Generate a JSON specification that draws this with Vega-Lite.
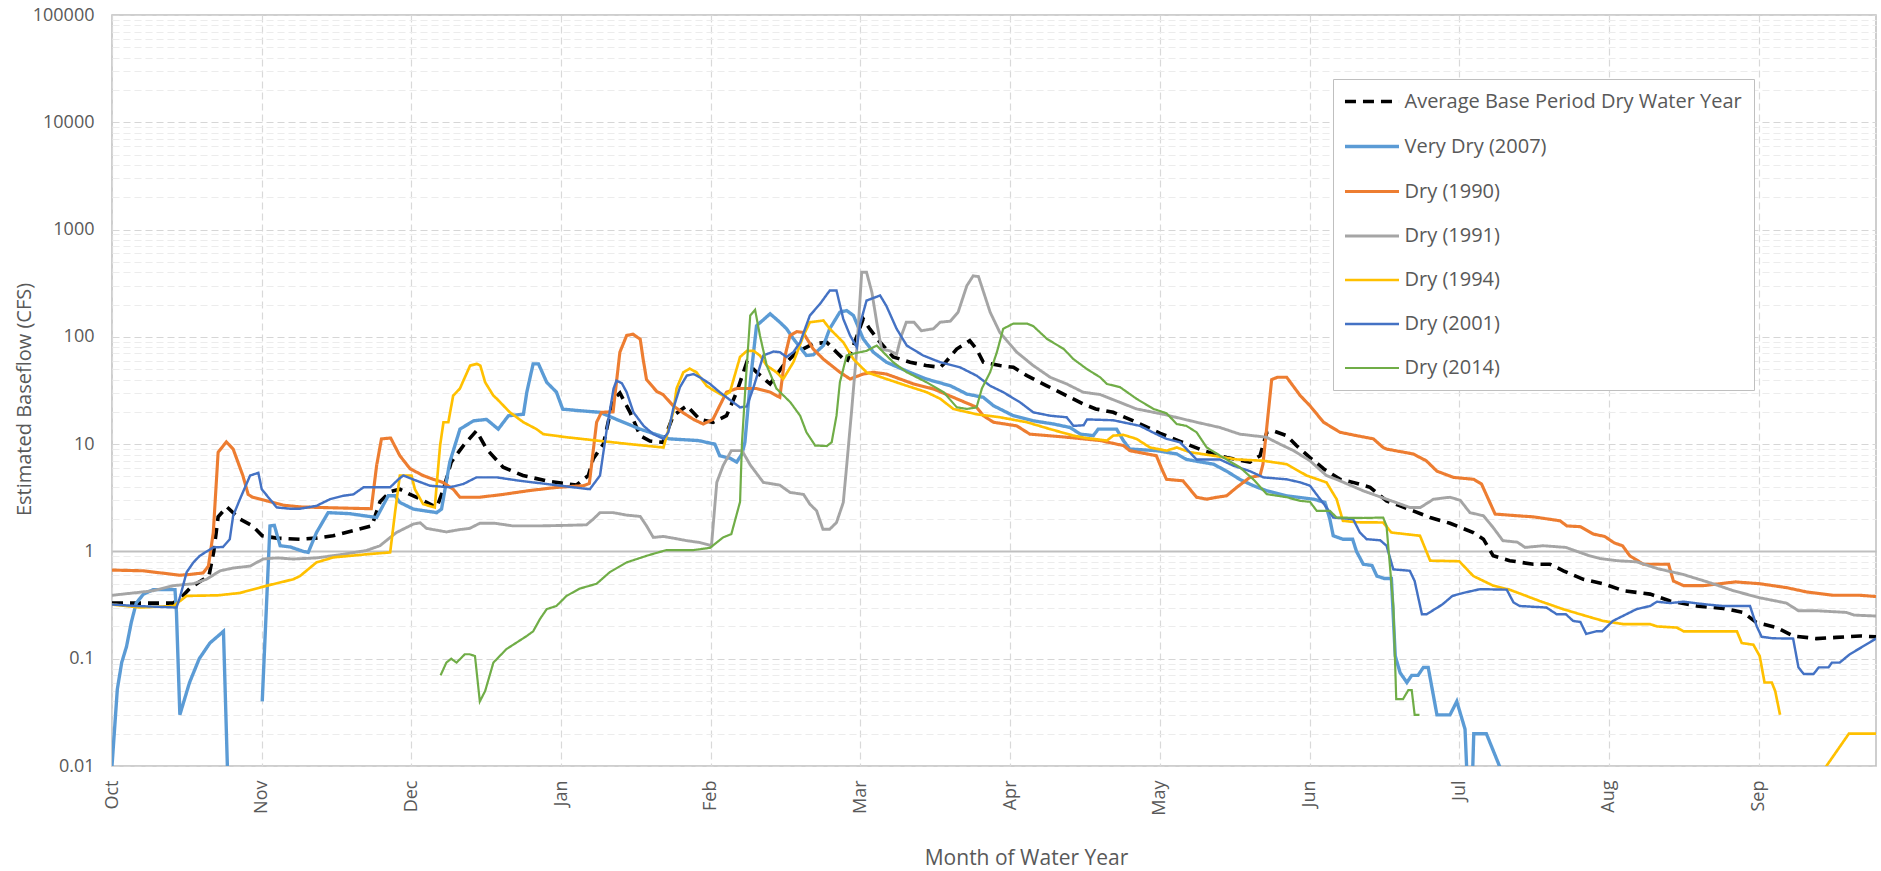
{
"$schema": "https://vega.github.io/schema/vega-lite/v6.json",
"autosize": {"type": "none"},
"width": 1764,
"height": 751,
"padding": {"left": 112, "top": 15, "right": 5, "bottom": 105},
"background": "white",
"config": {
  "font": "Open Sans",
  "view": {"stroke": "#bfbfbf", "strokeWidth": 1.5},
  "axis": {"labelColor": "#595959", "titleColor": "#595959", "titleFontWeight": "normal", "labelFont": "Open Sans", "titleFont": "Open Sans"}
},
"data": {"values": [
{"series":"Average Base Period Dry Water Year","day":0,"cfs":0.33},
{"series":"Average Base Period Dry Water Year","day":5,"cfs":0.33},
{"series":"Average Base Period Dry Water Year","day":12.6,"cfs":0.33},
{"series":"Average Base Period Dry Water Year","day":14,"cfs":0.36},
{"series":"Average Base Period Dry Water Year","day":16,"cfs":0.45},
{"series":"Average Base Period Dry Water Year","day":18,"cfs":0.52},
{"series":"Average Base Period Dry Water Year","day":20,"cfs":0.59},
{"series":"Average Base Period Dry Water Year","day":21,"cfs":1.0},
{"series":"Average Base Period Dry Water Year","day":21.9,"cfs":2.1},
{"series":"Average Base Period Dry Water Year","day":23.7,"cfs":2.6},
{"series":"Average Base Period Dry Water Year","day":26.4,"cfs":2.0},
{"series":"Average Base Period Dry Water Year","day":29,"cfs":1.73},
{"series":"Average Base Period Dry Water Year","day":31,"cfs":1.4},
{"series":"Average Base Period Dry Water Year","day":34,"cfs":1.33},
{"series":"Average Base Period Dry Water Year","day":38.8,"cfs":1.3},
{"series":"Average Base Period Dry Water Year","day":42,"cfs":1.33},
{"series":"Average Base Period Dry Water Year","day":45.6,"cfs":1.4},
{"series":"Average Base Period Dry Water Year","day":49.8,"cfs":1.56},
{"series":"Average Base Period Dry Water Year","day":53.6,"cfs":1.73},
{"series":"Average Base Period Dry Water Year","day":55.3,"cfs":2.9},
{"series":"Average Base Period Dry Water Year","day":57.4,"cfs":3.6},
{"series":"Average Base Period Dry Water Year","day":59.4,"cfs":3.8},
{"series":"Average Base Period Dry Water Year","day":61.5,"cfs":3.4},
{"series":"Average Base Period Dry Water Year","day":63.6,"cfs":3.08},
{"series":"Average Base Period Dry Water Year","day":67,"cfs":2.57},
{"series":"Average Base Period Dry Water Year","day":68.4,"cfs":3.8},
{"series":"Average Base Period Dry Water Year","day":70,"cfs":6.8},
{"series":"Average Base Period Dry Water Year","day":72.5,"cfs":9.7},
{"series":"Average Base Period Dry Water Year","day":75.2,"cfs":13.3},
{"series":"Average Base Period Dry Water Year","day":77.3,"cfs":9},
{"series":"Average Base Period Dry Water Year","day":80.7,"cfs":6.1},
{"series":"Average Base Period Dry Water Year","day":84.8,"cfs":5.1},
{"series":"Average Base Period Dry Water Year","day":89.6,"cfs":4.55},
{"series":"Average Base Period Dry Water Year","day":95.8,"cfs":4.15},
{"series":"Average Base Period Dry Water Year","day":98.3,"cfs":5.1},
{"series":"Average Base Period Dry Water Year","day":99.3,"cfs":7.3},
{"series":"Average Base Period Dry Water Year","day":101.4,"cfs":10},
{"series":"Average Base Period Dry Water Year","day":103.4,"cfs":26},
{"series":"Average Base Period Dry Water Year","day":104.8,"cfs":30},
{"series":"Average Base Period Dry Water Year","day":106.9,"cfs":19.8},
{"series":"Average Base Period Dry Water Year","day":109,"cfs":12},
{"series":"Average Base Period Dry Water Year","day":111,"cfs":10.7},
{"series":"Average Base Period Dry Water Year","day":113.7,"cfs":10.4},
{"series":"Average Base Period Dry Water Year","day":115.8,"cfs":18.4},
{"series":"Average Base Period Dry Water Year","day":118.6,"cfs":22.8},
{"series":"Average Base Period Dry Water Year","day":121.3,"cfs":17},
{"series":"Average Base Period Dry Water Year","day":124,"cfs":16},
{"series":"Average Base Period Dry Water Year","day":126.8,"cfs":18.4},
{"series":"Average Base Period Dry Water Year","day":128.9,"cfs":30.5},
{"series":"Average Base Period Dry Water Year","day":131,"cfs":58},
{"series":"Average Base Period Dry Water Year","day":133,"cfs":46.8},
{"series":"Average Base Period Dry Water Year","day":135.8,"cfs":36.4},
{"series":"Average Base Period Dry Water Year","day":138.5,"cfs":54},
{"series":"Average Base Period Dry Water Year","day":141.3,"cfs":72},
{"series":"Average Base Period Dry Water Year","day":144.7,"cfs":86},
{"series":"Average Base Period Dry Water Year","day":147.5,"cfs":89},
{"series":"Average Base Period Dry Water Year","day":149.5,"cfs":72},
{"series":"Average Base Period Dry Water Year","day":151.6,"cfs":58},
{"series":"Average Base Period Dry Water Year","day":153,"cfs":83},
{"series":"Average Base Period Dry Water Year","day":155,"cfs":147},
{"series":"Average Base Period Dry Water Year","day":156.4,"cfs":118},
{"series":"Average Base Period Dry Water Year","day":158.5,"cfs":89},
{"series":"Average Base Period Dry Water Year","day":161.2,"cfs":65},
{"series":"Average Base Period Dry Water Year","day":164.7,"cfs":58},
{"series":"Average Base Period Dry Water Year","day":168,"cfs":54},
{"series":"Average Base Period Dry Water Year","day":170.9,"cfs":52},
{"series":"Average Base Period Dry Water Year","day":172,"cfs":58},
{"series":"Average Base Period Dry Water Year","day":174.3,"cfs":77},
{"series":"Average Base Period Dry Water Year","day":177,"cfs":92},
{"series":"Average Base Period Dry Water Year","day":178.4,"cfs":77},
{"series":"Average Base Period Dry Water Year","day":179.8,"cfs":58},
{"series":"Average Base Period Dry Water Year","day":183.2,"cfs":54},
{"series":"Average Base Period Dry Water Year","day":186,"cfs":52},
{"series":"Average Base Period Dry Water Year","day":188.8,"cfs":43.5},
{"series":"Average Base Period Dry Water Year","day":192.9,"cfs":35},
{"series":"Average Base Period Dry Water Year","day":197,"cfs":28.3},
{"series":"Average Base Period Dry Water Year","day":200.4,"cfs":23.7},
{"series":"Average Base Period Dry Water Year","day":203,"cfs":21.3},
{"series":"Average Base Period Dry Water Year","day":206.6,"cfs":19.8},
{"series":"Average Base Period Dry Water Year","day":211.4,"cfs":16},
{"series":"Average Base Period Dry Water Year","day":216.3,"cfs":12.6},
{"series":"Average Base Period Dry Water Year","day":220.4,"cfs":10.6},
{"series":"Average Base Period Dry Water Year","day":225.2,"cfs":8.7},
{"series":"Average Base Period Dry Water Year","day":230,"cfs":7.5},
{"series":"Average Base Period Dry Water Year","day":234.8,"cfs":6.8},
{"series":"Average Base Period Dry Water Year","day":236.9,"cfs":7.8},
{"series":"Average Base Period Dry Water Year","day":238.3,"cfs":12.9},
{"series":"Average Base Period Dry Water Year","day":239.6,"cfs":13.3},
{"series":"Average Base Period Dry Water Year","day":242.4,"cfs":12},
{"series":"Average Base Period Dry Water Year","day":244.4,"cfs":9.7},
{"series":"Average Base Period Dry Water Year","day":247.2,"cfs":7.5},
{"series":"Average Base Period Dry Water Year","day":250,"cfs":5.9},
{"series":"Average Base Period Dry Water Year","day":253.4,"cfs":4.7},
{"series":"Average Base Period Dry Water Year","day":256.1,"cfs":4.4},
{"series":"Average Base Period Dry Water Year","day":259.6,"cfs":3.96},
{"series":"Average Base Period Dry Water Year","day":263,"cfs":2.96},
{"series":"Average Base Period Dry Water Year","day":265.8,"cfs":2.66},
{"series":"Average Base Period Dry Water Year","day":268.5,"cfs":2.39},
{"series":"Average Base Period Dry Water Year","day":272,"cfs":2.07},
{"series":"Average Base Period Dry Water Year","day":276.1,"cfs":1.83},
{"series":"Average Base Period Dry Water Year","day":280.9,"cfs":1.5},
{"series":"Average Base Period Dry Water Year","day":283,"cfs":1.3},
{"series":"Average Base Period Dry Water Year","day":285,"cfs":0.91},
{"series":"Average Base Period Dry Water Year","day":288.4,"cfs":0.82},
{"series":"Average Base Period Dry Water Year","day":293.3,"cfs":0.76},
{"series":"Average Base Period Dry Water Year","day":296.7,"cfs":0.76},
{"series":"Average Base Period Dry Water Year","day":299.5,"cfs":0.66},
{"series":"Average Base Period Dry Water Year","day":303.6,"cfs":0.55},
{"series":"Average Base Period Dry Water Year","day":307.7,"cfs":0.5},
{"series":"Average Base Period Dry Water Year","day":311.9,"cfs":0.43},
{"series":"Average Base Period Dry Water Year","day":317.4,"cfs":0.4},
{"series":"Average Base Period Dry Water Year","day":321.5,"cfs":0.345},
{"series":"Average Base Period Dry Water Year","day":327,"cfs":0.31},
{"series":"Average Base Period Dry Water Year","day":332.5,"cfs":0.294},
{"series":"Average Base Period Dry Water Year","day":336.6,"cfs":0.27},
{"series":"Average Base Period Dry Water Year","day":339.3,"cfs":0.218},
{"series":"Average Base Period Dry Water Year","day":343.5,"cfs":0.195},
{"series":"Average Base Period Dry Water Year","day":346.9,"cfs":0.163},
{"series":"Average Base Period Dry Water Year","day":351.7,"cfs":0.154},
{"series":"Average Base Period Dry Water Year","day":355.8,"cfs":0.158},
{"series":"Average Base Period Dry Water Year","day":360.7,"cfs":0.163},
{"series":"Average Base Period Dry Water Year","day":364,"cfs":0.16},
{"series":"Very Dry (2007)","day":0,"cfs":0.01},
{"series":"Very Dry (2007)","day":1.1,"cfs":0.052},
{"series":"Very Dry (2007)","day":2,"cfs":0.092},
{"series":"Very Dry (2007)","day":3,"cfs":0.13},
{"series":"Very Dry (2007)","day":4,"cfs":0.22},
{"series":"Very Dry (2007)","day":5,"cfs":0.33},
{"series":"Very Dry (2007)","day":6.5,"cfs":0.4},
{"series":"Very Dry (2007)","day":8.5,"cfs":0.44},
{"series":"Very Dry (2007)","day":13,"cfs":0.44},
{"series":"Very Dry (2007)","day":13.3,"cfs":0.27},
{"series":"Very Dry (2007)","day":14,"cfs":0.03},
{"series":"Very Dry (2007)","day":16,"cfs":0.06},
{"series":"Very Dry (2007)","day":18,"cfs":0.1},
{"series":"Very Dry (2007)","day":20.2,"cfs":0.14},
{"series":"Very Dry (2007)","day":23,"cfs":0.18},
{"series":"Very Dry (2007)","day":24,"cfs":0.005},
{"series":"Very Dry (2007)","day":25,"cfs":null},
{"series":"Very Dry (2007)","day":31,"cfs":0.04},
{"series":"Very Dry (2007)","day":32.6,"cfs":1.73},
{"series":"Very Dry (2007)","day":33.5,"cfs":1.75},
{"series":"Very Dry (2007)","day":34.7,"cfs":1.13},
{"series":"Very Dry (2007)","day":36.8,"cfs":1.1},
{"series":"Very Dry (2007)","day":39.5,"cfs":1.0},
{"series":"Very Dry (2007)","day":40.5,"cfs":0.98},
{"series":"Very Dry (2007)","day":42.2,"cfs":1.5},
{"series":"Very Dry (2007)","day":44.6,"cfs":2.3},
{"series":"Very Dry (2007)","day":49,"cfs":2.25},
{"series":"Very Dry (2007)","day":54.6,"cfs":2.07},
{"series":"Very Dry (2007)","day":57,"cfs":3.3},
{"series":"Very Dry (2007)","day":58.4,"cfs":3.3},
{"series":"Very Dry (2007)","day":59.4,"cfs":2.86},
{"series":"Very Dry (2007)","day":62.2,"cfs":2.48},
{"series":"Very Dry (2007)","day":67,"cfs":2.3},
{"series":"Very Dry (2007)","day":68,"cfs":2.48},
{"series":"Very Dry (2007)","day":69.7,"cfs":6.8},
{"series":"Very Dry (2007)","day":71.8,"cfs":13.8},
{"series":"Very Dry (2007)","day":74.6,"cfs":16.5},
{"series":"Very Dry (2007)","day":77.3,"cfs":17},
{"series":"Very Dry (2007)","day":79.7,"cfs":13.8},
{"series":"Very Dry (2007)","day":81.8,"cfs":18.4},
{"series":"Very Dry (2007)","day":84.9,"cfs":19},
{"series":"Very Dry (2007)","day":85.6,"cfs":30.6},
{"series":"Very Dry (2007)","day":86.9,"cfs":56},
{"series":"Very Dry (2007)","day":88,"cfs":56},
{"series":"Very Dry (2007)","day":89.7,"cfs":37.7},
{"series":"Very Dry (2007)","day":91.7,"cfs":30.6},
{"series":"Very Dry (2007)","day":93,"cfs":21.2},
{"series":"Very Dry (2007)","day":96.5,"cfs":20.5},
{"series":"Very Dry (2007)","day":100.7,"cfs":19.8},
{"series":"Very Dry (2007)","day":104.8,"cfs":16.5},
{"series":"Very Dry (2007)","day":109,"cfs":13.8},
{"series":"Very Dry (2007)","day":115,"cfs":11.2},
{"series":"Very Dry (2007)","day":121,"cfs":10.8},
{"series":"Very Dry (2007)","day":124.4,"cfs":10},
{"series":"Very Dry (2007)","day":125.4,"cfs":7.8},
{"series":"Very Dry (2007)","day":127.5,"cfs":7.4},
{"series":"Very Dry (2007)","day":128.9,"cfs":6.8},
{"series":"Very Dry (2007)","day":130,"cfs":8.1},
{"series":"Very Dry (2007)","day":130.6,"cfs":10.4},
{"series":"Very Dry (2007)","day":131.7,"cfs":37.7},
{"series":"Very Dry (2007)","day":133,"cfs":127},
{"series":"Very Dry (2007)","day":135.8,"cfs":164},
{"series":"Very Dry (2007)","day":137.8,"cfs":137},
{"series":"Very Dry (2007)","day":139.2,"cfs":119},
{"series":"Very Dry (2007)","day":140.6,"cfs":96},
{"series":"Very Dry (2007)","day":143.3,"cfs":67},
{"series":"Very Dry (2007)","day":144.7,"cfs":68},
{"series":"Very Dry (2007)","day":146.8,"cfs":83},
{"series":"Very Dry (2007)","day":148.1,"cfs":119},
{"series":"Very Dry (2007)","day":150.2,"cfs":170},
{"series":"Very Dry (2007)","day":151.6,"cfs":176},
{"series":"Very Dry (2007)","day":153,"cfs":158},
{"series":"Very Dry (2007)","day":155,"cfs":96},
{"series":"Very Dry (2007)","day":157.1,"cfs":72},
{"series":"Very Dry (2007)","day":159.8,"cfs":58},
{"series":"Very Dry (2007)","day":164,"cfs":48},
{"series":"Very Dry (2007)","day":168,"cfs":40.5},
{"series":"Very Dry (2007)","day":173,"cfs":35},
{"series":"Very Dry (2007)","day":176.4,"cfs":29.3},
{"series":"Very Dry (2007)","day":179.8,"cfs":27.3},
{"series":"Very Dry (2007)","day":181.9,"cfs":22.8},
{"series":"Very Dry (2007)","day":186,"cfs":18.4},
{"series":"Very Dry (2007)","day":190.1,"cfs":16.5},
{"series":"Very Dry (2007)","day":194.3,"cfs":15.4},
{"series":"Very Dry (2007)","day":197.7,"cfs":14.3},
{"series":"Very Dry (2007)","day":199.8,"cfs":12.4},
{"series":"Very Dry (2007)","day":202.5,"cfs":12},
{"series":"Very Dry (2007)","day":203.5,"cfs":13.8},
{"series":"Very Dry (2007)","day":207.3,"cfs":13.8},
{"series":"Very Dry (2007)","day":208.7,"cfs":10.8},
{"series":"Very Dry (2007)","day":210,"cfs":9},
{"series":"Very Dry (2007)","day":215.5,"cfs":8.7},
{"series":"Very Dry (2007)","day":219.7,"cfs":8.1},
{"series":"Very Dry (2007)","day":221.7,"cfs":7.2},
{"series":"Very Dry (2007)","day":227.3,"cfs":6.5},
{"series":"Very Dry (2007)","day":230,"cfs":5.6},
{"series":"Very Dry (2007)","day":232.7,"cfs":4.7},
{"series":"Very Dry (2007)","day":235.5,"cfs":4.1},
{"series":"Very Dry (2007)","day":238.3,"cfs":3.67},
{"series":"Very Dry (2007)","day":242.4,"cfs":3.3},
{"series":"Very Dry (2007)","day":247.9,"cfs":3.07},
{"series":"Very Dry (2007)","day":250.3,"cfs":2.87},
{"series":"Very Dry (2007)","day":251.3,"cfs":2.0},
{"series":"Very Dry (2007)","day":252,"cfs":1.4},
{"series":"Very Dry (2007)","day":254,"cfs":1.3},
{"series":"Very Dry (2007)","day":256,"cfs":1.3},
{"series":"Very Dry (2007)","day":256.8,"cfs":1.0},
{"series":"Very Dry (2007)","day":258.2,"cfs":0.76},
{"series":"Very Dry (2007)","day":260,"cfs":0.74},
{"series":"Very Dry (2007)","day":261,"cfs":0.59},
{"series":"Very Dry (2007)","day":262.5,"cfs":0.56},
{"series":"Very Dry (2007)","day":264,"cfs":0.56},
{"series":"Very Dry (2007)","day":264.8,"cfs":0.106},
{"series":"Very Dry (2007)","day":265.8,"cfs":0.074},
{"series":"Very Dry (2007)","day":267.2,"cfs":0.06},
{"series":"Very Dry (2007)","day":268.2,"cfs":0.07},
{"series":"Very Dry (2007)","day":269.5,"cfs":0.07},
{"series":"Very Dry (2007)","day":270.6,"cfs":0.083},
{"series":"Very Dry (2007)","day":271.6,"cfs":0.083},
{"series":"Very Dry (2007)","day":273.4,"cfs":0.03},
{"series":"Very Dry (2007)","day":276.1,"cfs":0.03},
{"series":"Very Dry (2007)","day":277.5,"cfs":0.04},
{"series":"Very Dry (2007)","day":279.2,"cfs":0.022},
{"series":"Very Dry (2007)","day":279.8,"cfs":0.005},
{"series":"Very Dry (2007)","day":280.3,"cfs":null},
{"series":"Very Dry (2007)","day":280.6,"cfs":0.005},
{"series":"Very Dry (2007)","day":281,"cfs":0.02},
{"series":"Very Dry (2007)","day":283.6,"cfs":0.02},
{"series":"Very Dry (2007)","day":289,"cfs":0.005},
{"series":"Dry (1990)","day":0,"cfs":0.67},
{"series":"Dry (1990)","day":6.4,"cfs":0.66},
{"series":"Dry (1990)","day":12.7,"cfs":0.61},
{"series":"Dry (1990)","day":14,"cfs":0.6},
{"series":"Dry (1990)","day":16,"cfs":0.61},
{"series":"Dry (1990)","day":18.8,"cfs":0.63},
{"series":"Dry (1990)","day":19.9,"cfs":0.73},
{"series":"Dry (1990)","day":20.9,"cfs":1.5},
{"series":"Dry (1990)","day":21.9,"cfs":8.4},
{"series":"Dry (1990)","day":23.6,"cfs":10.5},
{"series":"Dry (1990)","day":25,"cfs":9},
{"series":"Dry (1990)","day":27,"cfs":5.1},
{"series":"Dry (1990)","day":28.1,"cfs":3.4},
{"series":"Dry (1990)","day":29,"cfs":3.2},
{"series":"Dry (1990)","day":31.9,"cfs":2.96},
{"series":"Dry (1990)","day":35.3,"cfs":2.7},
{"series":"Dry (1990)","day":38.8,"cfs":2.6},
{"series":"Dry (1990)","day":45.6,"cfs":2.55},
{"series":"Dry (1990)","day":53.5,"cfs":2.5},
{"series":"Dry (1990)","day":54.6,"cfs":6.3},
{"series":"Dry (1990)","day":55.6,"cfs":11.2},
{"series":"Dry (1990)","day":57.5,"cfs":11.4},
{"series":"Dry (1990)","day":59.4,"cfs":7.8},
{"series":"Dry (1990)","day":61.5,"cfs":5.9},
{"series":"Dry (1990)","day":64.2,"cfs":5.1},
{"series":"Dry (1990)","day":66.3,"cfs":4.7},
{"series":"Dry (1990)","day":68.3,"cfs":4.4},
{"series":"Dry (1990)","day":70.4,"cfs":3.8},
{"series":"Dry (1990)","day":71.8,"cfs":3.2},
{"series":"Dry (1990)","day":75.9,"cfs":3.2},
{"series":"Dry (1990)","day":80.7,"cfs":3.4},
{"series":"Dry (1990)","day":86.3,"cfs":3.7},
{"series":"Dry (1990)","day":91.7,"cfs":3.95},
{"series":"Dry (1990)","day":97.3,"cfs":4.1},
{"series":"Dry (1990)","day":98.5,"cfs":4.3},
{"series":"Dry (1990)","day":100,"cfs":16},
{"series":"Dry (1990)","day":101,"cfs":19.8},
{"series":"Dry (1990)","day":103.4,"cfs":20},
{"series":"Dry (1990)","day":104.8,"cfs":72},
{"series":"Dry (1990)","day":106.2,"cfs":103},
{"series":"Dry (1990)","day":107.5,"cfs":106},
{"series":"Dry (1990)","day":109,"cfs":95},
{"series":"Dry (1990)","day":109.6,"cfs":62},
{"series":"Dry (1990)","day":110.3,"cfs":40},
{"series":"Dry (1990)","day":112.4,"cfs":31},
{"series":"Dry (1990)","day":113.7,"cfs":29},
{"series":"Dry (1990)","day":115.8,"cfs":22.8},
{"series":"Dry (1990)","day":117.2,"cfs":20.5},
{"series":"Dry (1990)","day":120,"cfs":17},
{"series":"Dry (1990)","day":122,"cfs":15.4},
{"series":"Dry (1990)","day":124,"cfs":17},
{"series":"Dry (1990)","day":125.4,"cfs":22.8},
{"series":"Dry (1990)","day":126.8,"cfs":30.5},
{"series":"Dry (1990)","day":128.9,"cfs":33},
{"series":"Dry (1990)","day":133,"cfs":33},
{"series":"Dry (1990)","day":135.8,"cfs":30.5},
{"series":"Dry (1990)","day":137.8,"cfs":27.3},
{"series":"Dry (1990)","day":138.9,"cfs":67},
{"series":"Dry (1990)","day":139.9,"cfs":103},
{"series":"Dry (1990)","day":141.3,"cfs":112},
{"series":"Dry (1990)","day":142.6,"cfs":110},
{"series":"Dry (1990)","day":144.7,"cfs":77},
{"series":"Dry (1990)","day":146.8,"cfs":62},
{"series":"Dry (1990)","day":150.2,"cfs":46.8},
{"series":"Dry (1990)","day":152.3,"cfs":40.5},
{"series":"Dry (1990)","day":155,"cfs":45},
{"series":"Dry (1990)","day":157.1,"cfs":46.8},
{"series":"Dry (1990)","day":159.8,"cfs":45},
{"series":"Dry (1990)","day":162.6,"cfs":40.5},
{"series":"Dry (1990)","day":165.4,"cfs":36.4},
{"series":"Dry (1990)","day":169.5,"cfs":32.7},
{"series":"Dry (1990)","day":173.6,"cfs":27.3},
{"series":"Dry (1990)","day":178.4,"cfs":22.1},
{"series":"Dry (1990)","day":179.8,"cfs":18.4},
{"series":"Dry (1990)","day":181.9,"cfs":16},
{"series":"Dry (1990)","day":186.7,"cfs":14.8},
{"series":"Dry (1990)","day":189.4,"cfs":12.4},
{"series":"Dry (1990)","day":197,"cfs":11.6},
{"series":"Dry (1990)","day":203.9,"cfs":10.8},
{"series":"Dry (1990)","day":208.7,"cfs":9.7},
{"series":"Dry (1990)","day":210,"cfs":8.7},
{"series":"Dry (1990)","day":215.5,"cfs":7.8},
{"series":"Dry (1990)","day":216.6,"cfs":5.9},
{"series":"Dry (1990)","day":217.6,"cfs":4.7},
{"series":"Dry (1990)","day":221,"cfs":4.55},
{"series":"Dry (1990)","day":223.8,"cfs":3.2},
{"series":"Dry (1990)","day":225.9,"cfs":3.07},
{"series":"Dry (1990)","day":228,"cfs":3.2},
{"series":"Dry (1990)","day":230,"cfs":3.3},
{"series":"Dry (1990)","day":232.1,"cfs":3.96},
{"series":"Dry (1990)","day":234.8,"cfs":4.9},
{"series":"Dry (1990)","day":236.9,"cfs":5.1},
{"series":"Dry (1990)","day":237.5,"cfs":6.5},
{"series":"Dry (1990)","day":239.3,"cfs":40},
{"series":"Dry (1990)","day":240.5,"cfs":42},
{"series":"Dry (1990)","day":242.4,"cfs":42},
{"series":"Dry (1990)","day":245.2,"cfs":28.3},
{"series":"Dry (1990)","day":247.2,"cfs":22.8},
{"series":"Dry (1990)","day":250,"cfs":16},
{"series":"Dry (1990)","day":253.4,"cfs":12.9},
{"series":"Dry (1990)","day":256.8,"cfs":12},
{"series":"Dry (1990)","day":260.3,"cfs":11.2},
{"series":"Dry (1990)","day":262.3,"cfs":9.3},
{"series":"Dry (1990)","day":263,"cfs":9},
{"series":"Dry (1990)","day":268.5,"cfs":8.1},
{"series":"Dry (1990)","day":271.2,"cfs":7},
{"series":"Dry (1990)","day":273.4,"cfs":5.6},
{"series":"Dry (1990)","day":276.8,"cfs":4.9},
{"series":"Dry (1990)","day":281,"cfs":4.7},
{"series":"Dry (1990)","day":282.6,"cfs":4.25},
{"series":"Dry (1990)","day":285.4,"cfs":2.23},
{"series":"Dry (1990)","day":290,"cfs":2.15},
{"series":"Dry (1990)","day":293.3,"cfs":2.1},
{"series":"Dry (1990)","day":298.8,"cfs":1.93},
{"series":"Dry (1990)","day":300.2,"cfs":1.73},
{"series":"Dry (1990)","day":303,"cfs":1.7},
{"series":"Dry (1990)","day":305.7,"cfs":1.45},
{"series":"Dry (1990)","day":308,"cfs":1.38},
{"series":"Dry (1990)","day":310,"cfs":1.2},
{"series":"Dry (1990)","day":311.7,"cfs":1.13},
{"series":"Dry (1990)","day":313.2,"cfs":0.91},
{"series":"Dry (1990)","day":316,"cfs":0.76},
{"series":"Dry (1990)","day":321.2,"cfs":0.76},
{"series":"Dry (1990)","day":322.2,"cfs":0.53},
{"series":"Dry (1990)","day":324.3,"cfs":0.48},
{"series":"Dry (1990)","day":328.4,"cfs":0.48},
{"series":"Dry (1990)","day":335,"cfs":0.52},
{"series":"Dry (1990)","day":340,"cfs":0.5},
{"series":"Dry (1990)","day":345.5,"cfs":0.46},
{"series":"Dry (1990)","day":349.6,"cfs":0.42},
{"series":"Dry (1990)","day":355.2,"cfs":0.39},
{"series":"Dry (1990)","day":360.7,"cfs":0.39},
{"series":"Dry (1990)","day":364,"cfs":0.38},
{"series":"Dry (1991)","day":0,"cfs":0.39},
{"series":"Dry (1991)","day":4.4,"cfs":0.41},
{"series":"Dry (1991)","day":8.5,"cfs":0.43},
{"series":"Dry (1991)","day":12.7,"cfs":0.48},
{"series":"Dry (1991)","day":16.8,"cfs":0.5},
{"series":"Dry (1991)","day":19.5,"cfs":0.55},
{"series":"Dry (1991)","day":22.3,"cfs":0.66},
{"series":"Dry (1991)","day":25,"cfs":0.7},
{"series":"Dry (1991)","day":28.5,"cfs":0.73},
{"series":"Dry (1991)","day":31.2,"cfs":0.85},
{"series":"Dry (1991)","day":34,"cfs":0.87},
{"series":"Dry (1991)","day":37.4,"cfs":0.85},
{"series":"Dry (1991)","day":42.2,"cfs":0.87},
{"series":"Dry (1991)","day":47.7,"cfs":0.94},
{"series":"Dry (1991)","day":52.5,"cfs":1.02},
{"series":"Dry (1991)","day":55.3,"cfs":1.13},
{"series":"Dry (1991)","day":57.4,"cfs":1.35},
{"series":"Dry (1991)","day":58.7,"cfs":1.5},
{"series":"Dry (1991)","day":62.2,"cfs":1.8},
{"series":"Dry (1991)","day":63.6,"cfs":1.85},
{"series":"Dry (1991)","day":64.9,"cfs":1.64},
{"series":"Dry (1991)","day":69,"cfs":1.52},
{"series":"Dry (1991)","day":71.8,"cfs":1.6},
{"series":"Dry (1991)","day":73.8,"cfs":1.64},
{"series":"Dry (1991)","day":75.9,"cfs":1.83},
{"series":"Dry (1991)","day":79,"cfs":1.83},
{"series":"Dry (1991)","day":82.7,"cfs":1.73},
{"series":"Dry (1991)","day":88.3,"cfs":1.73},
{"series":"Dry (1991)","day":93.8,"cfs":1.75},
{"series":"Dry (1991)","day":97.9,"cfs":1.77},
{"series":"Dry (1991)","day":99.3,"cfs":2.0},
{"series":"Dry (1991)","day":100.7,"cfs":2.3},
{"series":"Dry (1991)","day":103.4,"cfs":2.3},
{"series":"Dry (1991)","day":106.2,"cfs":2.18},
{"series":"Dry (1991)","day":109,"cfs":2.12},
{"series":"Dry (1991)","day":110.3,"cfs":1.73},
{"series":"Dry (1991)","day":111.7,"cfs":1.35},
{"series":"Dry (1991)","day":113.8,"cfs":1.38},
{"series":"Dry (1991)","day":115.8,"cfs":1.33},
{"series":"Dry (1991)","day":118.6,"cfs":1.26},
{"series":"Dry (1991)","day":121.3,"cfs":1.21},
{"series":"Dry (1991)","day":123.7,"cfs":1.13},
{"series":"Dry (1991)","day":124.8,"cfs":4.4},
{"series":"Dry (1991)","day":126.1,"cfs":6.3},
{"series":"Dry (1991)","day":127.8,"cfs":8.7},
{"series":"Dry (1991)","day":130,"cfs":8.7},
{"series":"Dry (1991)","day":131.7,"cfs":6.4},
{"series":"Dry (1991)","day":134.4,"cfs":4.4},
{"series":"Dry (1991)","day":137.8,"cfs":4.15},
{"series":"Dry (1991)","day":139.9,"cfs":3.55},
{"series":"Dry (1991)","day":142.7,"cfs":3.4},
{"series":"Dry (1991)","day":144,"cfs":2.76},
{"series":"Dry (1991)","day":145.4,"cfs":2.39},
{"series":"Dry (1991)","day":146.7,"cfs":1.61},
{"series":"Dry (1991)","day":148.1,"cfs":1.61},
{"series":"Dry (1991)","day":149.5,"cfs":1.86},
{"series":"Dry (1991)","day":150.9,"cfs":2.86},
{"series":"Dry (1991)","day":151.6,"cfs":6.3},
{"series":"Dry (1991)","day":152.6,"cfs":20},
{"series":"Dry (1991)","day":153.7,"cfs":77},
{"series":"Dry (1991)","day":154.7,"cfs":400},
{"series":"Dry (1991)","day":155.7,"cfs":400},
{"series":"Dry (1991)","day":156.8,"cfs":260},
{"series":"Dry (1991)","day":157.8,"cfs":137},
{"series":"Dry (1991)","day":158.8,"cfs":77},
{"series":"Dry (1991)","day":160.5,"cfs":74},
{"series":"Dry (1991)","day":161.9,"cfs":69},
{"series":"Dry (1991)","day":162.9,"cfs":103},
{"series":"Dry (1991)","day":163.9,"cfs":137},
{"series":"Dry (1991)","day":165.5,"cfs":137},
{"series":"Dry (1991)","day":167,"cfs":114},
{"series":"Dry (1991)","day":169.5,"cfs":119},
{"series":"Dry (1991)","day":170.9,"cfs":137},
{"series":"Dry (1991)","day":173,"cfs":140},
{"series":"Dry (1991)","day":174.6,"cfs":170},
{"series":"Dry (1991)","day":176.4,"cfs":300},
{"series":"Dry (1991)","day":177.7,"cfs":370},
{"series":"Dry (1991)","day":178.8,"cfs":365},
{"series":"Dry (1991)","day":181.2,"cfs":170},
{"series":"Dry (1991)","day":183.2,"cfs":110},
{"series":"Dry (1991)","day":186.7,"cfs":72},
{"series":"Dry (1991)","day":190.1,"cfs":54},
{"series":"Dry (1991)","day":193.6,"cfs":42},
{"series":"Dry (1991)","day":197,"cfs":36.4},
{"series":"Dry (1991)","day":200.4,"cfs":30.5},
{"series":"Dry (1991)","day":203.9,"cfs":29},
{"series":"Dry (1991)","day":208,"cfs":24.5},
{"series":"Dry (1991)","day":211.4,"cfs":21.3},
{"series":"Dry (1991)","day":216.9,"cfs":19},
{"series":"Dry (1991)","day":223.8,"cfs":16},
{"series":"Dry (1991)","day":228.6,"cfs":14.3},
{"series":"Dry (1991)","day":232.7,"cfs":12.4},
{"series":"Dry (1991)","day":238.2,"cfs":11.6},
{"series":"Dry (1991)","day":241,"cfs":10},
{"series":"Dry (1991)","day":243.8,"cfs":8.7},
{"series":"Dry (1991)","day":247.2,"cfs":7},
{"series":"Dry (1991)","day":250.6,"cfs":5.1},
{"series":"Dry (1991)","day":253.4,"cfs":4.55},
{"series":"Dry (1991)","day":258.2,"cfs":3.67},
{"series":"Dry (1991)","day":263,"cfs":3.07},
{"series":"Dry (1991)","day":267.8,"cfs":2.57},
{"series":"Dry (1991)","day":270,"cfs":2.57},
{"series":"Dry (1991)","day":272.7,"cfs":3.07},
{"series":"Dry (1991)","day":276.1,"cfs":3.2},
{"series":"Dry (1991)","day":278.2,"cfs":3.0},
{"series":"Dry (1991)","day":280.2,"cfs":2.3},
{"series":"Dry (1991)","day":283,"cfs":2.15},
{"series":"Dry (1991)","day":285,"cfs":1.67},
{"series":"Dry (1991)","day":287,"cfs":1.26},
{"series":"Dry (1991)","day":290,"cfs":1.22},
{"series":"Dry (1991)","day":291.6,"cfs":1.09},
{"series":"Dry (1991)","day":295.3,"cfs":1.13},
{"series":"Dry (1991)","day":300,"cfs":1.09},
{"series":"Dry (1991)","day":304.9,"cfs":0.91},
{"series":"Dry (1991)","day":307,"cfs":0.86},
{"series":"Dry (1991)","day":310.5,"cfs":0.82},
{"series":"Dry (1991)","day":314.6,"cfs":0.8},
{"series":"Dry (1991)","day":319,"cfs":0.69},
{"series":"Dry (1991)","day":324.2,"cfs":0.61},
{"series":"Dry (1991)","day":329.8,"cfs":0.51},
{"series":"Dry (1991)","day":334.6,"cfs":0.43},
{"series":"Dry (1991)","day":340,"cfs":0.37},
{"series":"Dry (1991)","day":345.5,"cfs":0.33},
{"series":"Dry (1991)","day":348,"cfs":0.28},
{"series":"Dry (1991)","day":351.7,"cfs":0.28},
{"series":"Dry (1991)","day":357.9,"cfs":0.27},
{"series":"Dry (1991)","day":359.5,"cfs":0.255},
{"series":"Dry (1991)","day":364,"cfs":0.25},
{"series":"Dry (1994)","day":0,"cfs":0.32},
{"series":"Dry (1994)","day":5.8,"cfs":0.3},
{"series":"Dry (1994)","day":12.7,"cfs":0.31},
{"series":"Dry (1994)","day":15.4,"cfs":0.385},
{"series":"Dry (1994)","day":21.9,"cfs":0.39},
{"series":"Dry (1994)","day":26.4,"cfs":0.41},
{"series":"Dry (1994)","day":32,"cfs":0.48},
{"series":"Dry (1994)","day":37.4,"cfs":0.55},
{"series":"Dry (1994)","day":38.8,"cfs":0.59},
{"series":"Dry (1994)","day":42.2,"cfs":0.79},
{"series":"Dry (1994)","day":45.7,"cfs":0.88},
{"series":"Dry (1994)","day":52.5,"cfs":0.94},
{"series":"Dry (1994)","day":57.4,"cfs":0.98},
{"series":"Dry (1994)","day":58.4,"cfs":2.3},
{"series":"Dry (1994)","day":59.4,"cfs":5.1},
{"series":"Dry (1994)","day":61.8,"cfs":5.1},
{"series":"Dry (1994)","day":62.5,"cfs":3.8},
{"series":"Dry (1994)","day":64.2,"cfs":2.76},
{"series":"Dry (1994)","day":66.6,"cfs":2.57},
{"series":"Dry (1994)","day":67.7,"cfs":9.7},
{"series":"Dry (1994)","day":68.4,"cfs":16},
{"series":"Dry (1994)","day":69.4,"cfs":16},
{"series":"Dry (1994)","day":70.4,"cfs":28.3},
{"series":"Dry (1994)","day":71.8,"cfs":33},
{"series":"Dry (1994)","day":72.5,"cfs":39},
{"series":"Dry (1994)","day":73.9,"cfs":54},
{"series":"Dry (1994)","day":75.3,"cfs":56},
{"series":"Dry (1994)","day":76,"cfs":54},
{"series":"Dry (1994)","day":77,"cfs":37.7},
{"series":"Dry (1994)","day":78.7,"cfs":28.3},
{"series":"Dry (1994)","day":79.4,"cfs":26.5},
{"series":"Dry (1994)","day":82.1,"cfs":19.8},
{"series":"Dry (1994)","day":84.9,"cfs":16},
{"series":"Dry (1994)","day":87.6,"cfs":13.8},
{"series":"Dry (1994)","day":89,"cfs":12.4},
{"series":"Dry (1994)","day":93.8,"cfs":11.6},
{"series":"Dry (1994)","day":100,"cfs":10.8},
{"series":"Dry (1994)","day":106.9,"cfs":10},
{"series":"Dry (1994)","day":113.8,"cfs":9.3},
{"series":"Dry (1994)","day":115.8,"cfs":19.8},
{"series":"Dry (1994)","day":116.5,"cfs":33},
{"series":"Dry (1994)","day":117.9,"cfs":46.8},
{"series":"Dry (1994)","day":119.2,"cfs":50.6},
{"series":"Dry (1994)","day":120.6,"cfs":46.8},
{"series":"Dry (1994)","day":122.7,"cfs":35},
{"series":"Dry (1994)","day":124,"cfs":32},
{"series":"Dry (1994)","day":126.1,"cfs":28.3},
{"series":"Dry (1994)","day":127.5,"cfs":30.5},
{"series":"Dry (1994)","day":129.6,"cfs":65},
{"series":"Dry (1994)","day":131,"cfs":74},
{"series":"Dry (1994)","day":132.4,"cfs":74},
{"series":"Dry (1994)","day":133.7,"cfs":67},
{"series":"Dry (1994)","day":135.1,"cfs":54},
{"series":"Dry (1994)","day":137.1,"cfs":46.8},
{"series":"Dry (1994)","day":138.5,"cfs":40.5},
{"series":"Dry (1994)","day":140.6,"cfs":58},
{"series":"Dry (1994)","day":142.7,"cfs":103},
{"series":"Dry (1994)","day":144,"cfs":137},
{"series":"Dry (1994)","day":146.8,"cfs":142},
{"series":"Dry (1994)","day":148.1,"cfs":119},
{"series":"Dry (1994)","day":150.9,"cfs":89},
{"series":"Dry (1994)","day":153,"cfs":62},
{"series":"Dry (1994)","day":155.7,"cfs":46.8},
{"series":"Dry (1994)","day":159.8,"cfs":40.5},
{"series":"Dry (1994)","day":164,"cfs":35},
{"series":"Dry (1994)","day":168.1,"cfs":30.5},
{"series":"Dry (1994)","day":170.9,"cfs":26.5},
{"series":"Dry (1994)","day":173.6,"cfs":21.3},
{"series":"Dry (1994)","day":178.4,"cfs":19},
{"series":"Dry (1994)","day":183.2,"cfs":17.8},
{"series":"Dry (1994)","day":188.8,"cfs":16},
{"series":"Dry (1994)","day":193.6,"cfs":13.8},
{"series":"Dry (1994)","day":198.4,"cfs":12},
{"series":"Dry (1994)","day":201,"cfs":11.4},
{"series":"Dry (1994)","day":205.3,"cfs":10.8},
{"series":"Dry (1994)","day":206.6,"cfs":12},
{"series":"Dry (1994)","day":208.7,"cfs":12.2},
{"series":"Dry (1994)","day":211.4,"cfs":11.2},
{"series":"Dry (1994)","day":214.2,"cfs":9.3},
{"series":"Dry (1994)","day":217.6,"cfs":8.7},
{"series":"Dry (1994)","day":219.7,"cfs":9.3},
{"series":"Dry (1994)","day":222.5,"cfs":8.4},
{"series":"Dry (1994)","day":227.3,"cfs":7.8},
{"series":"Dry (1994)","day":232.1,"cfs":7.2},
{"series":"Dry (1994)","day":237.6,"cfs":7},
{"series":"Dry (1994)","day":242.4,"cfs":6.5},
{"series":"Dry (1994)","day":246.5,"cfs":5.1},
{"series":"Dry (1994)","day":250.6,"cfs":4.4},
{"series":"Dry (1994)","day":252.7,"cfs":3.07},
{"series":"Dry (1994)","day":254,"cfs":1.93},
{"series":"Dry (1994)","day":256.8,"cfs":1.87},
{"series":"Dry (1994)","day":262.3,"cfs":1.86},
{"series":"Dry (1994)","day":264,"cfs":1.5},
{"series":"Dry (1994)","day":269.9,"cfs":1.4},
{"series":"Dry (1994)","day":272,"cfs":0.82},
{"series":"Dry (1994)","day":278,"cfs":0.81},
{"series":"Dry (1994)","day":280.9,"cfs":0.59},
{"series":"Dry (1994)","day":285,"cfs":0.48},
{"series":"Dry (1994)","day":288.4,"cfs":0.44},
{"series":"Dry (1994)","day":294.6,"cfs":0.345},
{"series":"Dry (1994)","day":299.4,"cfs":0.29},
{"series":"Dry (1994)","day":304.2,"cfs":0.25},
{"series":"Dry (1994)","day":307.7,"cfs":0.225},
{"series":"Dry (1994)","day":311.9,"cfs":0.21},
{"series":"Dry (1994)","day":317.4,"cfs":0.21},
{"series":"Dry (1994)","day":318.8,"cfs":0.2},
{"series":"Dry (1994)","day":322.9,"cfs":0.195},
{"series":"Dry (1994)","day":324.3,"cfs":0.18},
{"series":"Dry (1994)","day":335.3,"cfs":0.18},
{"series":"Dry (1994)","day":336.3,"cfs":0.14},
{"series":"Dry (1994)","day":338.7,"cfs":0.135},
{"series":"Dry (1994)","day":340,"cfs":0.106},
{"series":"Dry (1994)","day":341,"cfs":0.06},
{"series":"Dry (1994)","day":342.5,"cfs":0.06},
{"series":"Dry (1994)","day":343.2,"cfs":0.05},
{"series":"Dry (1994)","day":344.2,"cfs":0.03},
{"series":"Dry (1994)","day":345,"cfs":null},
{"series":"Dry (1994)","day":353.7,"cfs":0.0099},
{"series":"Dry (1994)","day":358.4,"cfs":0.02},
{"series":"Dry (1994)","day":364,"cfs":0.02},
{"series":"Dry (2001)","day":0,"cfs":0.32},
{"series":"Dry (2001)","day":5,"cfs":0.31},
{"series":"Dry (2001)","day":13.3,"cfs":0.3},
{"series":"Dry (2001)","day":14,"cfs":0.37},
{"series":"Dry (2001)","day":15.4,"cfs":0.64},
{"series":"Dry (2001)","day":16.8,"cfs":0.79},
{"series":"Dry (2001)","day":18.1,"cfs":0.91},
{"series":"Dry (2001)","day":20.9,"cfs":1.09},
{"series":"Dry (2001)","day":22.9,"cfs":1.1},
{"series":"Dry (2001)","day":24.3,"cfs":1.3},
{"series":"Dry (2001)","day":25,"cfs":2.15},
{"series":"Dry (2001)","day":26.4,"cfs":3.07},
{"series":"Dry (2001)","day":28.5,"cfs":5.1},
{"series":"Dry (2001)","day":30.2,"cfs":5.4},
{"series":"Dry (2001)","day":30.9,"cfs":3.8},
{"series":"Dry (2001)","day":32,"cfs":3.3},
{"series":"Dry (2001)","day":34,"cfs":2.57},
{"series":"Dry (2001)","day":36.8,"cfs":2.5},
{"series":"Dry (2001)","day":38.8,"cfs":2.5},
{"series":"Dry (2001)","day":42.2,"cfs":2.66},
{"series":"Dry (2001)","day":45,"cfs":3.07},
{"series":"Dry (2001)","day":47.7,"cfs":3.3},
{"series":"Dry (2001)","day":49.8,"cfs":3.4},
{"series":"Dry (2001)","day":51.9,"cfs":3.96},
{"series":"Dry (2001)","day":57.4,"cfs":3.96},
{"series":"Dry (2001)","day":59.1,"cfs":4.7},
{"series":"Dry (2001)","day":60.1,"cfs":5.1},
{"series":"Dry (2001)","day":62.9,"cfs":4.55},
{"series":"Dry (2001)","day":65.6,"cfs":4.1},
{"series":"Dry (2001)","day":69.7,"cfs":3.96},
{"series":"Dry (2001)","day":72.5,"cfs":4.25},
{"series":"Dry (2001)","day":75.2,"cfs":4.9},
{"series":"Dry (2001)","day":79.4,"cfs":4.9},
{"series":"Dry (2001)","day":84.2,"cfs":4.55},
{"series":"Dry (2001)","day":89.7,"cfs":4.25},
{"series":"Dry (2001)","day":95.2,"cfs":3.96},
{"series":"Dry (2001)","day":98.6,"cfs":3.8},
{"series":"Dry (2001)","day":100.7,"cfs":5.1},
{"series":"Dry (2001)","day":102.1,"cfs":13.8},
{"series":"Dry (2001)","day":103.5,"cfs":33},
{"series":"Dry (2001)","day":104.1,"cfs":39},
{"series":"Dry (2001)","day":105.2,"cfs":37},
{"series":"Dry (2001)","day":106.2,"cfs":30.5},
{"series":"Dry (2001)","day":107.6,"cfs":19.8},
{"series":"Dry (2001)","day":109.7,"cfs":14.8},
{"series":"Dry (2001)","day":111.7,"cfs":12.4},
{"series":"Dry (2001)","day":113.8,"cfs":11.2},
{"series":"Dry (2001)","day":114.8,"cfs":12.9},
{"series":"Dry (2001)","day":115.8,"cfs":21.3},
{"series":"Dry (2001)","day":117.2,"cfs":34},
{"series":"Dry (2001)","day":118.6,"cfs":43.5},
{"series":"Dry (2001)","day":120,"cfs":45},
{"series":"Dry (2001)","day":121.3,"cfs":42},
{"series":"Dry (2001)","day":123.4,"cfs":36.4},
{"series":"Dry (2001)","day":125.4,"cfs":30.5},
{"series":"Dry (2001)","day":128.2,"cfs":24.5},
{"series":"Dry (2001)","day":129.6,"cfs":22},
{"series":"Dry (2001)","day":131,"cfs":22.5},
{"series":"Dry (2001)","day":132.3,"cfs":33},
{"series":"Dry (2001)","day":134.4,"cfs":67},
{"series":"Dry (2001)","day":136.5,"cfs":73},
{"series":"Dry (2001)","day":137.8,"cfs":72},
{"series":"Dry (2001)","day":139.2,"cfs":65},
{"series":"Dry (2001)","day":140.6,"cfs":72},
{"series":"Dry (2001)","day":142,"cfs":89},
{"series":"Dry (2001)","day":144,"cfs":158},
{"series":"Dry (2001)","day":146.1,"cfs":203},
{"series":"Dry (2001)","day":148.1,"cfs":270},
{"series":"Dry (2001)","day":149.5,"cfs":270},
{"series":"Dry (2001)","day":150.9,"cfs":147},
{"series":"Dry (2001)","day":152.3,"cfs":103},
{"series":"Dry (2001)","day":153.7,"cfs":80},
{"series":"Dry (2001)","day":154.4,"cfs":133},
{"series":"Dry (2001)","day":155.7,"cfs":218},
{"series":"Dry (2001)","day":158.5,"cfs":243},
{"series":"Dry (2001)","day":159.8,"cfs":194},
{"series":"Dry (2001)","day":161.9,"cfs":119},
{"series":"Dry (2001)","day":164,"cfs":83},
{"series":"Dry (2001)","day":167.4,"cfs":67},
{"series":"Dry (2001)","day":170.9,"cfs":58},
{"series":"Dry (2001)","day":175,"cfs":52},
{"series":"Dry (2001)","day":178.4,"cfs":43.5},
{"series":"Dry (2001)","day":181.2,"cfs":35},
{"series":"Dry (2001)","day":183.9,"cfs":30.5},
{"series":"Dry (2001)","day":187.4,"cfs":24.5},
{"series":"Dry (2001)","day":190.1,"cfs":19.8},
{"series":"Dry (2001)","day":193.6,"cfs":18.4},
{"series":"Dry (2001)","day":197,"cfs":17.8},
{"series":"Dry (2001)","day":198.4,"cfs":14.8},
{"series":"Dry (2001)","day":200.5,"cfs":15},
{"series":"Dry (2001)","day":201.2,"cfs":17},
{"series":"Dry (2001)","day":206.6,"cfs":16.7},
{"series":"Dry (2001)","day":212.1,"cfs":14.8},
{"series":"Dry (2001)","day":215.5,"cfs":12.4},
{"series":"Dry (2001)","day":217.6,"cfs":11.2},
{"series":"Dry (2001)","day":220.4,"cfs":10.4},
{"series":"Dry (2001)","day":223.8,"cfs":7.2},
{"series":"Dry (2001)","day":228.6,"cfs":7.2},
{"series":"Dry (2001)","day":231.4,"cfs":6.3},
{"series":"Dry (2001)","day":234.8,"cfs":5.6},
{"series":"Dry (2001)","day":237.6,"cfs":4.9},
{"series":"Dry (2001)","day":242.4,"cfs":4.7},
{"series":"Dry (2001)","day":245.2,"cfs":4.4},
{"series":"Dry (2001)","day":247.2,"cfs":4.1},
{"series":"Dry (2001)","day":249.3,"cfs":3.07},
{"series":"Dry (2001)","day":250.6,"cfs":2.57},
{"series":"Dry (2001)","day":252,"cfs":2.07},
{"series":"Dry (2001)","day":256.1,"cfs":2.0},
{"series":"Dry (2001)","day":257.5,"cfs":1.5},
{"series":"Dry (2001)","day":258.9,"cfs":1.3},
{"series":"Dry (2001)","day":261.7,"cfs":1.27},
{"series":"Dry (2001)","day":263,"cfs":1.13},
{"series":"Dry (2001)","day":264.4,"cfs":0.68},
{"series":"Dry (2001)","day":267.8,"cfs":0.66},
{"series":"Dry (2001)","day":268.8,"cfs":0.53},
{"series":"Dry (2001)","day":270.3,"cfs":0.26},
{"series":"Dry (2001)","day":271.3,"cfs":0.26},
{"series":"Dry (2001)","day":274.5,"cfs":0.32},
{"series":"Dry (2001)","day":276.6,"cfs":0.385},
{"series":"Dry (2001)","day":278.8,"cfs":0.41},
{"series":"Dry (2001)","day":282.3,"cfs":0.445},
{"series":"Dry (2001)","day":287.8,"cfs":0.44},
{"series":"Dry (2001)","day":289.2,"cfs":0.335},
{"series":"Dry (2001)","day":290.5,"cfs":0.31},
{"series":"Dry (2001)","day":296,"cfs":0.3},
{"series":"Dry (2001)","day":298.1,"cfs":0.26},
{"series":"Dry (2001)","day":300,"cfs":0.26},
{"series":"Dry (2001)","day":301.5,"cfs":0.225},
{"series":"Dry (2001)","day":303,"cfs":0.22},
{"series":"Dry (2001)","day":304.2,"cfs":0.17},
{"series":"Dry (2001)","day":306.3,"cfs":0.18},
{"series":"Dry (2001)","day":307.5,"cfs":0.18},
{"series":"Dry (2001)","day":309.7,"cfs":0.225},
{"series":"Dry (2001)","day":312.5,"cfs":0.26},
{"series":"Dry (2001)","day":314.6,"cfs":0.29},
{"series":"Dry (2001)","day":317.4,"cfs":0.31},
{"series":"Dry (2001)","day":318.8,"cfs":0.34},
{"series":"Dry (2001)","day":321.5,"cfs":0.33},
{"series":"Dry (2001)","day":324.3,"cfs":0.34},
{"series":"Dry (2001)","day":329.1,"cfs":0.32},
{"series":"Dry (2001)","day":332.5,"cfs":0.31},
{"series":"Dry (2001)","day":338,"cfs":0.31},
{"series":"Dry (2001)","day":339.4,"cfs":0.2},
{"series":"Dry (2001)","day":340.4,"cfs":0.16},
{"series":"Dry (2001)","day":342.8,"cfs":0.155},
{"series":"Dry (2001)","day":346.9,"cfs":0.154},
{"series":"Dry (2001)","day":348,"cfs":0.083},
{"series":"Dry (2001)","day":349.1,"cfs":0.072},
{"series":"Dry (2001)","day":351.1,"cfs":0.072},
{"series":"Dry (2001)","day":352.2,"cfs":0.083},
{"series":"Dry (2001)","day":354.2,"cfs":0.083},
{"series":"Dry (2001)","day":354.9,"cfs":0.092},
{"series":"Dry (2001)","day":356.5,"cfs":0.092},
{"series":"Dry (2001)","day":358.6,"cfs":0.11},
{"series":"Dry (2001)","day":364,"cfs":0.154},
{"series":"Dry (2014)","day":67.8,"cfs":0.07},
{"series":"Dry (2014)","day":69,"cfs":0.092},
{"series":"Dry (2014)","day":70,"cfs":0.1},
{"series":"Dry (2014)","day":71.1,"cfs":0.092},
{"series":"Dry (2014)","day":72.8,"cfs":0.11},
{"series":"Dry (2014)","day":73.8,"cfs":0.11},
{"series":"Dry (2014)","day":74.9,"cfs":0.106},
{"series":"Dry (2014)","day":75.9,"cfs":0.04},
{"series":"Dry (2014)","day":77,"cfs":0.05},
{"series":"Dry (2014)","day":78.7,"cfs":0.092},
{"series":"Dry (2014)","day":81.4,"cfs":0.123},
{"series":"Dry (2014)","day":85.6,"cfs":0.163},
{"series":"Dry (2014)","day":86.9,"cfs":0.18},
{"series":"Dry (2014)","day":88.3,"cfs":0.234},
{"series":"Dry (2014)","day":89.7,"cfs":0.29},
{"series":"Dry (2014)","day":91.7,"cfs":0.31},
{"series":"Dry (2014)","day":93.8,"cfs":0.385},
{"series":"Dry (2014)","day":96.5,"cfs":0.45},
{"series":"Dry (2014)","day":100,"cfs":0.5},
{"series":"Dry (2014)","day":102.7,"cfs":0.64},
{"series":"Dry (2014)","day":106.2,"cfs":0.79},
{"series":"Dry (2014)","day":110.3,"cfs":0.91},
{"series":"Dry (2014)","day":114.4,"cfs":1.03},
{"series":"Dry (2014)","day":120,"cfs":1.03},
{"series":"Dry (2014)","day":123.4,"cfs":1.08},
{"series":"Dry (2014)","day":126.1,"cfs":1.35},
{"series":"Dry (2014)","day":127.8,"cfs":1.45},
{"series":"Dry (2014)","day":129.6,"cfs":2.9},
{"series":"Dry (2014)","day":130,"cfs":10.4},
{"series":"Dry (2014)","day":130.8,"cfs":40},
{"series":"Dry (2014)","day":131.7,"cfs":158},
{"series":"Dry (2014)","day":132.7,"cfs":179},
{"series":"Dry (2014)","day":133.7,"cfs":103},
{"series":"Dry (2014)","day":135.1,"cfs":54},
{"series":"Dry (2014)","day":137.1,"cfs":33},
{"series":"Dry (2014)","day":140,"cfs":24.5},
{"series":"Dry (2014)","day":142,"cfs":18.4},
{"series":"Dry (2014)","day":143.3,"cfs":12.9},
{"series":"Dry (2014)","day":145.1,"cfs":9.7},
{"series":"Dry (2014)","day":147.5,"cfs":9.6},
{"series":"Dry (2014)","day":148.5,"cfs":10.4},
{"series":"Dry (2014)","day":149.5,"cfs":18.4},
{"series":"Dry (2014)","day":150.2,"cfs":37.7},
{"series":"Dry (2014)","day":151.6,"cfs":67},
{"series":"Dry (2014)","day":153.7,"cfs":71},
{"series":"Dry (2014)","day":155.7,"cfs":74},
{"series":"Dry (2014)","day":157.8,"cfs":83},
{"series":"Dry (2014)","day":161.2,"cfs":58},
{"series":"Dry (2014)","day":164,"cfs":46.8},
{"series":"Dry (2014)","day":168.1,"cfs":37.7},
{"series":"Dry (2014)","day":171.6,"cfs":30.5},
{"series":"Dry (2014)","day":174.3,"cfs":22.1},
{"series":"Dry (2014)","day":176.4,"cfs":21.3},
{"series":"Dry (2014)","day":178.4,"cfs":22},
{"series":"Dry (2014)","day":179.5,"cfs":33},
{"series":"Dry (2014)","day":181.2,"cfs":46.8},
{"series":"Dry (2014)","day":182.6,"cfs":72},
{"series":"Dry (2014)","day":183.9,"cfs":119},
{"series":"Dry (2014)","day":186,"cfs":133},
{"series":"Dry (2014)","day":188.8,"cfs":133},
{"series":"Dry (2014)","day":190.1,"cfs":126},
{"series":"Dry (2014)","day":192.9,"cfs":96},
{"series":"Dry (2014)","day":196.4,"cfs":77},
{"series":"Dry (2014)","day":198.4,"cfs":62},
{"series":"Dry (2014)","day":201.2,"cfs":50},
{"series":"Dry (2014)","day":203.9,"cfs":42},
{"series":"Dry (2014)","day":205.3,"cfs":36.4},
{"series":"Dry (2014)","day":208,"cfs":34},
{"series":"Dry (2014)","day":211.4,"cfs":26.5},
{"series":"Dry (2014)","day":214.9,"cfs":21.3},
{"series":"Dry (2014)","day":217.6,"cfs":19.4},
{"series":"Dry (2014)","day":219.7,"cfs":15.4},
{"series":"Dry (2014)","day":221.7,"cfs":14.8},
{"series":"Dry (2014)","day":223.8,"cfs":12.9},
{"series":"Dry (2014)","day":225.9,"cfs":9.3},
{"series":"Dry (2014)","day":229.3,"cfs":7.5},
{"series":"Dry (2014)","day":232.7,"cfs":6.1},
{"series":"Dry (2014)","day":235.5,"cfs":4.7},
{"series":"Dry (2014)","day":238.3,"cfs":3.42},
{"series":"Dry (2014)","day":242.4,"cfs":3.2},
{"series":"Dry (2014)","day":245.2,"cfs":2.96},
{"series":"Dry (2014)","day":247.2,"cfs":2.9},
{"series":"Dry (2014)","day":248.6,"cfs":2.39},
{"series":"Dry (2014)","day":251.3,"cfs":2.39},
{"series":"Dry (2014)","day":252.7,"cfs":2.07},
{"series":"Dry (2014)","day":258.2,"cfs":2.05},
{"series":"Dry (2014)","day":262.3,"cfs":2.07},
{"series":"Dry (2014)","day":263,"cfs":1.73},
{"series":"Dry (2014)","day":263.7,"cfs":0.73},
{"series":"Dry (2014)","day":264.4,"cfs":0.31},
{"series":"Dry (2014)","day":265,"cfs":0.042},
{"series":"Dry (2014)","day":266.4,"cfs":0.042},
{"series":"Dry (2014)","day":267.5,"cfs":0.051},
{"series":"Dry (2014)","day":268.2,"cfs":0.051},
{"series":"Dry (2014)","day":268.8,"cfs":0.03},
{"series":"Dry (2014)","day":269.8,"cfs":0.03}
]},
"mark": {"type": "line", "clip": true, "interpolate": "linear"},
"encoding": {
  "x": {"field": "day", "type": "quantitative",
    "scale": {"domain": [0, 364], "nice": false, "zero": false},
    "axis": {"values": [0, 30.89, 61.78, 92.67, 123.56, 154.45, 185.34, 216.23, 247.12, 278.01, 308.9, 339.79],
      "labelExpr": "['Oct','Nov','Dec','Jan','Feb','Mar','Apr','May','Jun','Jul','Aug','Sep'][round(datum.value/30.89)]",
      "labelAngle": -90, "labelAlign": "right", "labelBaseline": "middle", "labelFontSize": 18, "labelPadding": 14,
      "ticks": false, "domain": false, "grid": true, "gridDash": [7, 4], "gridColor": "#d9d9d9", "gridWidth": 1.2,
      "title": "Month of Water Year", "titleFontSize": 21, "titleX": 914, "titleY": 98, "titleAlign": "center", "titleBaseline": "alphabetic", "titleAnchor": null}},
  "y": {"field": "cfs", "type": "quantitative",
    "scale": {"type": "log", "domain": [0.01, 100000], "nice": false},
    "axis": {"values": [0.01,0.02,0.03,0.04,0.05,0.06,0.07,0.08,0.09,0.1,0.2,0.3,0.4,0.5,0.6,0.7,0.8,0.9,1,2,3,4,5,6,7,8,9,10,20,30,40,50,60,70,80,90,100,200,300,400,500,600,700,800,900,1000,2000,3000,4000,5000,6000,7000,8000,9000,10000,20000,30000,40000,50000,60000,70000,80000,90000,100000],
      "labelExpr": "indexof([0.01,0.1,1,10,100,1000,10000,100000], datum.value) >= 0 ? toString(datum.value) : ''",
      "labelFontSize": 18, "labelPadding": 18, "ticks": false, "domain": false, "grid": true,
      "gridDash": {"condition": {"test": "datum.value == 1", "value": [1, 0]}, "value": [7, 4]},
      "gridColor": {"condition": [{"test": "datum.value == 1", "value": "#bfbfbf"}, {"test": "indexof([0.01,0.1,10,100,1000,10000,100000], datum.value) >= 0", "value": "#d6d6d6"}], "value": "#ececec"},
      "gridWidth": {"condition": {"test": "datum.value == 1", "value": 2}, "value": 1.2},
      "title": "Estimated Baseflow (CFS)", "titleFontSize": 20, "titleX": -82, "titleY": 384, "titleAlign": "center", "titleBaseline": "alphabetic", "titleAngle": 270, "titleAnchor": null}},
  "color": {"field": "series", "type": "nominal",
    "scale": {"domain": ["Average Base Period Dry Water Year", "Very Dry (2007)", "Dry (1990)", "Dry (1991)", "Dry (1994)", "Dry (2001)", "Dry (2014)"],
      "range": ["#000000", "#5B9BD5", "#ED7D31", "#A5A5A5", "#FFC000", "#4472C4", "#70AD47"]},
    "legend": {"orient": "none", "legendX": 1221, "legendY": 64, "title": null,
      "symbolType": "M-3.18,0H3.18", "symbolSize": 289, "symbolOffset": 16.5,
      "labelFontSize": 20, "labelColor": "#595959", "labelLimit": 1000, "labelOffset": 22, "strokeColor": "#bfbfbf", "fillColor": "#ffffff",
      "padding": 12, "rowPadding": 24}},
  "strokeDash": {"field": "series", "type": "nominal",
    "scale": {"domain": ["Average Base Period Dry Water Year", "Very Dry (2007)", "Dry (1990)", "Dry (1991)", "Dry (1994)", "Dry (2001)", "Dry (2014)"],
      "range": [[11, 7], [1, 0], [1, 0], [1, 0], [1, 0], [1, 0], [1, 0]]}},
  "strokeWidth": {"field": "series", "type": "nominal",
    "scale": {"domain": ["Average Base Period Dry Water Year", "Very Dry (2007)", "Dry (1990)", "Dry (1991)", "Dry (1994)", "Dry (2001)", "Dry (2014)"],
      "range": [3.6, 2.2, 2.2, 2.2, 2.2, 2.2, 2.2]}}
}
}
